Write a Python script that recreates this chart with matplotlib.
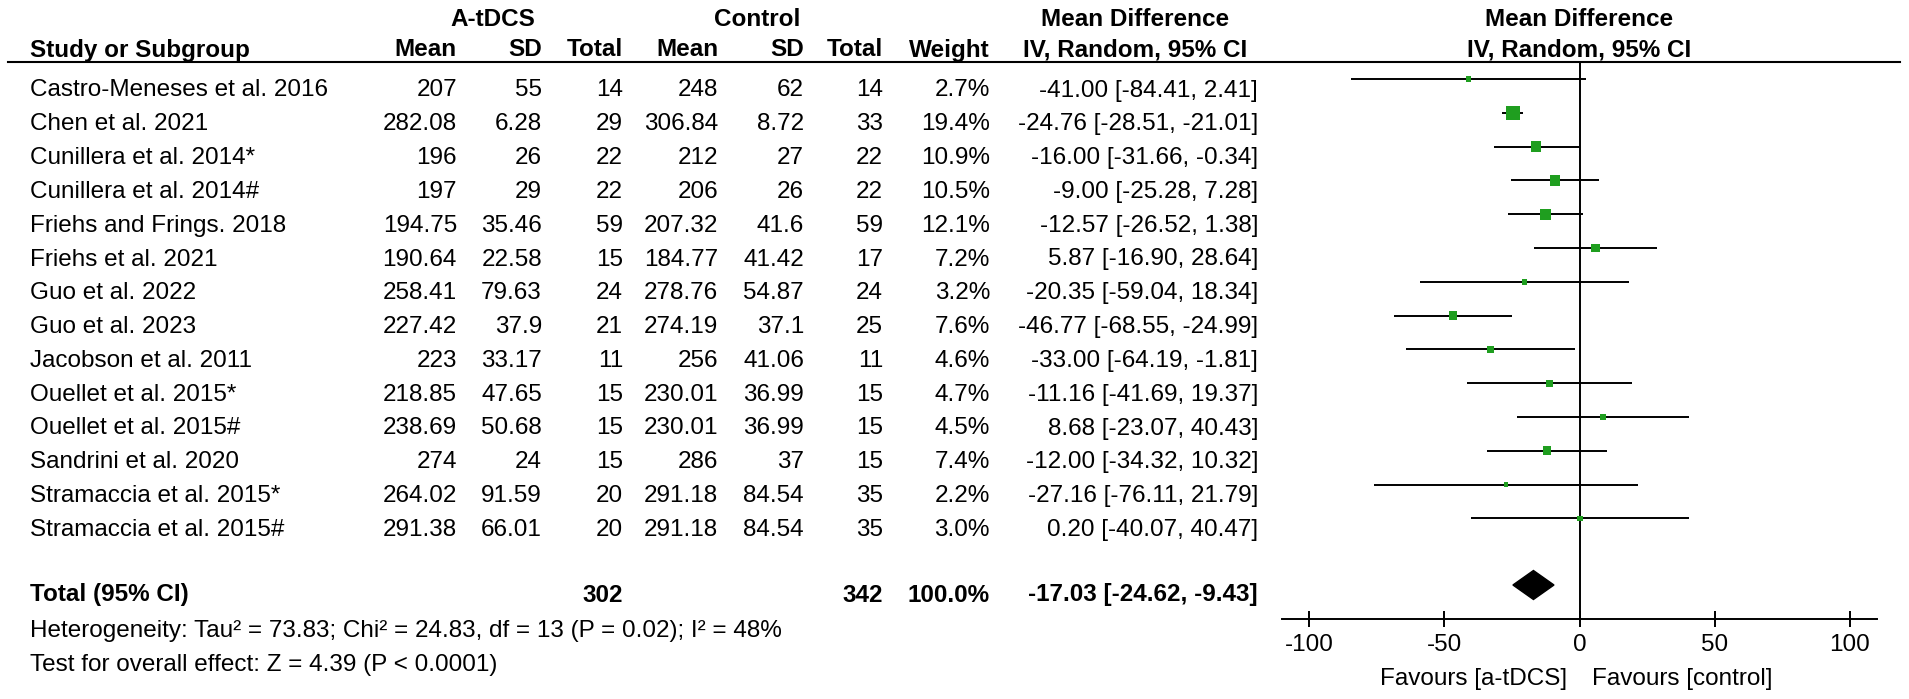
import matplotlib
matplotlib.use("Agg")
import matplotlib.pyplot as plt

plt.rcParams["font.family"] = ["Liberation Sans", "DejaVu Sans"]

# ---- data ----
studies = [
    "Castro-Meneses et al. 2016", "Chen et al. 2021", "Cunillera et al. 2014*",
    "Cunillera et al. 2014#", "Friehs and Frings. 2018", "Friehs et al. 2021",
    "Guo et al. 2022", "Guo et al. 2023", "Jacobson et al. 2011",
    "Ouellet et al. 2015*", "Ouellet et al. 2015#", "Sandrini et al. 2020",
    "Stramaccia et al. 2015*", "Stramaccia et al. 2015#",
]
tdcs_mean = [207, 282.08, 196, 197, 194.75, 190.64, 258.41, 227.42, 223, 218.85, 238.69, 274, 264.02, 291.38]
tdcs_sd = [55, 6.28, 26, 29, 35.46, 22.58, 79.63, 37.9, 33.17, 47.65, 50.68, 24, 91.59, 66.01]
tdcs_n = [14, 29, 22, 22, 59, 15, 24, 21, 11, 15, 15, 15, 20, 20]
ctrl_mean = [248, 306.84, 212, 206, 207.32, 184.77, 278.76, 274.19, 256, 230.01, 230.01, 286, 291.18, 291.18]
ctrl_sd = [62, 8.72, 27, 26, 41.6, 41.42, 54.87, 37.1, 41.06, 36.99, 36.99, 37, 84.54, 84.54]
ctrl_n = [14, 33, 22, 22, 59, 17, 24, 25, 11, 15, 15, 15, 35, 35]
weight = [2.7, 19.4, 10.9, 10.5, 12.1, 7.2, 3.2, 7.6, 4.6, 4.7, 4.5, 7.4, 2.2, 3.0]
md = [-41.00, -24.76, -16.00, -9.00, -12.57, 5.87, -20.35, -46.77, -33.00, -11.16, 8.68, -12.00, -27.16, 0.20]
ci_lo = [-84.41, -28.51, -31.66, -25.28, -26.52, -16.90, -59.04, -68.55, -64.19, -41.69, -23.07, -34.32, -76.11, -40.07]
ci_hi = [2.41, -21.01, -0.34, 7.28, 1.38, 28.64, 18.34, -24.99, -1.81, 19.37, 40.43, 10.32, 21.79, 40.47]

total_tdcs_n = 302
total_ctrl_n = 342
total_weight = 100.0
total_md = -17.03
total_lo = -24.62
total_hi = -9.43

heterogeneity = "Heterogeneity: Tau\u00b2 = 73.83; Chi\u00b2 = 24.83, df = 13 (P = 0.02); I\u00b2 = 48%"
overall = "Test for overall effect: Z = 4.39 (P < 0.0001)"
axis_ticks = [-100, -50, 0, 50, 100]

# ---- layout (pixels of the 1909 x 699 canvas) ----
W, H = 1909, 699
ROW0, ROWH = 79, 33.8
TXT_DY = 9          # row text sits a bit below the CI line
FS = 17.5
GREEN = "#1f9e1f"
cap = 8.5  # half cap height, puts the text centre on the given y

fig = plt.figure(figsize=(W / 100, H / 100), dpi=100)
tab = fig.add_axes([0, 0, 1, 1])
tab.set_xlim(0, W)
tab.set_ylim(H, 0)
tab.axis("off")


def put(x, y, s, ha="right", bold=False):
    tab.text(x, y + cap, s, ha=ha, va="baseline", fontsize=FS,
             fontweight="bold" if bold else "normal")


# column right edges
col_x = [457, 542, 623, 718, 804, 883, 990, 1258]

# header
put(493, 17, "A-tDCS", ha="center", bold=True)
put(757, 17, "Control", ha="center", bold=True)
put(1135, 17, "Mean Difference", ha="center", bold=True)
put(1579, 17, "Mean Difference", ha="center", bold=True)
hy = 48
put(30, hy, "Study or Subgroup", ha="left", bold=True)
for x, s in zip(col_x[:7], ["Mean", "SD", "Total", "Mean", "SD", "Total", "Weight"]):
    put(x, hy, s, bold=True)
put(1135, hy, "IV, Random, 95% CI", ha="center", bold=True)
put(1579, hy, "IV, Random, 95% CI", ha="center", bold=True)
tab.plot([8, 1900], [62, 62], color="black", lw=1.5)

# study rows
for i, name in enumerate(studies):
    y = ROW0 + i * ROWH + TXT_DY
    put(30, y, name, ha="left")
    cells = [f"{tdcs_mean[i]:g}", f"{tdcs_sd[i]:g}", f"{tdcs_n[i]}",
             f"{ctrl_mean[i]:g}", f"{ctrl_sd[i]:g}", f"{ctrl_n[i]}",
             f"{weight[i]:.1f}%",
             f"{md[i]:.2f} [{ci_lo[i]:.2f}, {ci_hi[i]:.2f}]"]
    for x, s in zip(col_x, cells):
        put(x, y, s)

# total row + footnotes
yt = 593
put(30, yt, "Total (95% CI)", ha="left", bold=True)
put(col_x[2], yt, f"{total_tdcs_n}", bold=True)
put(col_x[5], yt, f"{total_ctrl_n}", bold=True)
put(col_x[6], yt, f"{total_weight:.1f}%", bold=True)
put(col_x[7], yt, f"{total_md:.2f} [{total_lo:.2f}, {total_hi:.2f}]", bold=True)
put(30, 628, heterogeneity, ha="left")
put(30, 662, overall, ha="left")

# ---- forest panel ----
x0, x1, ytop, ybot = 1282, 1877, 62, 619
ax = fig.add_axes([x0 / W, 1 - ybot / H, (x1 - x0) / W, (ybot - ytop) / H])
ax.patch.set_alpha(0)
ax.set_xlim(-110, 110)
ax.set_ylim((ybot - ROW0) / ROWH, (ytop - ROW0) / ROWH)
for side in ["top", "left", "right"]:
    ax.spines[side].set_visible(False)
ax.spines["bottom"].set_linewidth(1.4)
ax.set_yticks([])
ax.set_xticks(axis_ticks)
ax.set_xticklabels([f"{t}" for t in axis_ticks])
ax.tick_params(axis="x", direction="inout", length=11.5, width=1.4,
               labelsize=FS, pad=5)

ax.axvline(0, color="black", lw=1.4, zorder=1)
rows = list(range(len(studies)))
ax.hlines(rows, ci_lo, ci_hi, color="black", lw=1.4, zorder=2)
sizes = [(14 * (w / max(weight)) ** 0.5 * 0.72) ** 2 for w in weight]
ax.scatter(md, rows, s=sizes, marker="s", color=GREEN, zorder=3, linewidths=0)

yd = (585 - ROW0) / ROWH
hd = 14.5 / ROWH
ax.fill([total_lo, total_md, total_hi, total_md], [yd, yd - hd, yd, yd + hd],
        color="black", zorder=3)

put(1567, 677, "Favours [a-tDCS]")
put(1592, 677, "Favours [control]", ha="left")

fig.savefig("out.png", dpi=100)
